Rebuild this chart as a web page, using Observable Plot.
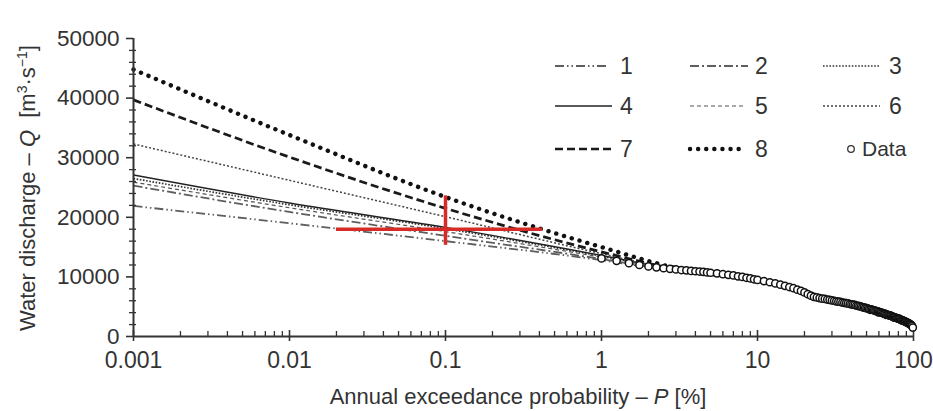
<!DOCTYPE html>
<html><head><meta charset="utf-8">
<script src="https://cdn.jsdelivr.net/npm/d3@7"></script>
<script src="https://cdn.jsdelivr.net/npm/@observablehq/plot@0.6"></script>
<style>
body{margin:0;background:#fff}
svg{font-family:"Liberation Sans",Arial,Helvetica,sans-serif}
</style>
</head><body><div id="chart"></div>
<script>
// ---- data ----
const probs = [0.001, 0.01, 0.1, 1, 3, 10, 30, 100];
const line1 = [21900, 19000, 16000, 12800, 10900, 9200, 6000, 1700];
const line2 = [25300, 20900, 16900, 13000, 11000, 9200, 6000, 1700];
const line3 = [26500, 22100, 18100, 13500, 11200, 9300, 6100, 1700];
const line4 = [27100, 22400, 18300, 13600, 11200, 9300, 6100, 1700];
const line5 = [25900, 21600, 17600, 13300, 11100, 9300, 6100, 1700];
const line6 = [32300, 26200, 20100, 13900, 11200, 9300, 6100, 1700];
const line7 = [39700, 30100, 21500, 14200, 11300, 9300, 6100, 1700];
const line8 = [44800, 33800, 23400, 15000, 11500, 9400, 6100, 1700];
const seriesNames = ["1","2","3","4","5","6","7","8"];

const dataP = [1,1.25,1.5,1.75,2,2.25,2.5,2.75,3,3.25,3.5,3.75,4,4.25,4.5,4.75,5,5.5,6,6.5,7,7.5,8,8.5,9,9.5,10,
  11,12,13,14,15,16,17,18,19,20,21,22,23,24,25,26,27,28,29,30,31,32,33,34,35,36,37,38,39,40,
  41,42,43,44,45,46,47,48,49,50,51,52,53,54,55,56,57,58,59,60,61,62,63,64,65,66,67,68,69,70,
  71,72,73,74,75,76,77,78,79,80,81,82,83,84,85,86,87,88,89,90,91,92,93,94,95,96,97,98,99];
const dataQ = [13100,12700,12300,12000,11750,11600,11450,11350,11250,11150,11100,11000,10950,10900,10850,10750,10700,10600,10450,10350,10250,10100,10000,9850,9750,9600,9500,
  9300,9100,8900,8700,8500,8300,8100,7850,7650,7400,7100,6850,6650,6550,6450,6350,6300,6200,6150,6050,6000,5900,5850,5800,5700,5650,5600,5550,5450,5400,
  5350,5300,5200,5150,5100,5000,4950,4900,4800,4750,4700,4600,4550,4500,4450,4400,4300,4250,4200,4150,4050,4000,3950,3900,3850,3800,3700,3650,3600,3550,
  3500,3450,3350,3300,3250,3200,3150,3100,3050,3000,2950,2900,2800,2750,2700,2650,2600,2550,2450,2400,2350,2300,2200,2150,2050,2000,1900,1750,1500];

const crossP = 0.1, crossQ = 18000;
const crossPRange = [0.02, 0.42];
const crossQRange = [15300, 23600];

const yTicks = [0, 10000, 20000, 30000, 40000, 50000];
const yMinor = [2000,4000,6000,8000,12000,14000,16000,18000,22000,24000,26000,28000,32000,34000,36000,38000,42000,44000,46000,48000];
const xTicks = [0.001, 0.01, 0.1, 1, 10, 100];
const xTickLabels = ["0.001", "0.01", "0.1", "1", "10", "100"];
const xMinor = [];
[0.001,0.01,0.1,1,10].forEach(d => { for (let k = 2; k <= 9; k++) xMinor.push(+(d*k).toPrecision(3)); });

// ---- styles ----
const styles = {
  "1": {stroke:"#5e5e5e", w:1.8, dash:"9,3,1.5,3,1.5,3"},
  "2": {stroke:"#5e5e5e", w:1.8, dash:"9,3,2,3"},
  "3": {stroke:"#333", w:1.7, dash:"1.6,1.6"},
  "4": {stroke:"#222", w:1.4, dash:null},
  "5": {stroke:"#555", w:1.2, dash:"4,3"},
  "6": {stroke:"#444", w:1.5, dash:"2,2"},
  "7": {stroke:"#1a1a1a", w:2.7, dash:"8,4"},
  "8": {stroke:"#111", w:4.4, dash:"0.1,8"},
};
styles["8"].cap = "round";

const allLines = [line1,line2,line3,line4,line5,line6,line7,line8];
const rows = [];
allLines.forEach((arr, i) => arr.forEach((q, j) => rows.push({s: seriesNames[i], p: probs[j], q})));
const pts = dataP.map((p, i) => ({p, q: dataQ[i]}));

const lineMarks = seriesNames.map(s => Plot.line(rows.filter(r => r.s === s), {
  x: "p", y: "q", curve: "monotone-x",
  stroke: styles[s].stroke, strokeWidth: styles[s].w,
  strokeDasharray: styles[s].dash || undefined,
  strokeLinecap: styles[s].cap || "butt"
}));

const chart = Plot.plot({
  width: 933, height: 411,
  marginLeft: 133, marginRight: 20, marginTop: 38, marginBottom: 75,
  style: {fontSize: "23px", color: "#333", background: "#fff", fontFamily: "Liberation Sans, Arial, sans-serif"},
  x: {type: "log", domain: [0.001, 100]},
  y: {domain: [0, 50000]},
  marks: [
    ...lineMarks,
    Plot.dot(pts, {x: "p", y: "q", r: 3.6, stroke: "#111", strokeWidth: 1.5, fill: "#fff"}),
    Plot.ruleY([crossQ], {x1: crossPRange[0], x2: crossPRange[1], stroke: "#d62b27", strokeWidth: 3.5}),
    Plot.ruleX([crossP], {y1: crossQRange[0], y2: crossQRange[1], stroke: "#d62b27", strokeWidth: 3.5}),
    Plot.axisY({ticks: yTicks, tickFormat: d => String(d), tickSize: 7, tickPadding: 7, label: null, strokeWidth: 1.6, fontSize: 22.5}),
    Plot.axisY({ticks: yMinor, tickSize: 4, text: null, label: null, strokeWidth: 1.3}),
    Plot.axisY({ticks: yMinor, tickSize: -3, text: null, label: null, strokeWidth: 1.3}),
    Plot.axisX({ticks: xTicks, tickFormat: d => xTickLabels[xTicks.indexOf(d)], tickSize: 5, tickPadding: 10, label: null, strokeWidth: 1.6, fontSize: 23}),
    Plot.axisX({ticks: xTicks, tickSize: -6, text: null, label: null, strokeWidth: 1.6}),
    Plot.axisX({ticks: xMinor, tickSize: -5, text: null, label: null, strokeWidth: 1.3}),
    Plot.ruleY([0], {stroke: "#333", strokeWidth: 2}),
    Plot.ruleX([0.001], {stroke: "#333", strokeWidth: 2})
  ]
});
document.getElementById("chart").appendChild(chart);

// ---- titles & legend ----
const svg = d3.select(chart);
const xt = svg.append("text").attr("x", 518).attr("y", 404).attr("text-anchor", "middle")
  .attr("font-size", 22).attr("fill", "#333");
xt.append("tspan").text("Annual exceedance probability – ");
xt.append("tspan").attr("font-style", "italic").text("P");
xt.append("tspan").text(" [%]");

const yt = svg.append("text").attr("transform", "translate(35,188) rotate(-90)").attr("text-anchor", "middle")
  .attr("font-size", 22).attr("fill", "#333");
yt.append("tspan").text("Water discharge – ");
yt.append("tspan").attr("font-style", "italic").text("Q");
yt.append("tspan").text("  [m");
yt.append("tspan").attr("font-size", 14).attr("dy", -8).text("3");
yt.append("tspan").attr("dy", 8).text("·s");
yt.append("tspan").attr("font-size", 14).attr("dy", -8).text("−1");
yt.append("tspan").attr("dy", 8).text("]");

const legendItems = [
  {s:"1", x1:555, x2:608, tx:620, y:66},
  {s:"2", x1:690, x2:748, tx:755, y:66},
  {s:"3", x1:823, x2:880, tx:889, y:66},
  {s:"4", x1:555, x2:612, tx:620, y:106},
  {s:"5", x1:690, x2:745, tx:755, y:106},
  {s:"6", x1:823, x2:880, tx:889, y:106},
  {s:"7", x1:555, x2:612, tx:620, y:149},
  {s:"8", x1:690, x2:745, tx:755, y:149}
];
const lg = svg.append("g").attr("text-anchor", "start");
legendItems.forEach(it => {
  const st = styles[it.s];
  lg.append("line").attr("x1", it.x1).attr("x2", it.x2).attr("y1", it.y).attr("y2", it.y)
    .attr("stroke", st.stroke).attr("stroke-width", st.w)
    .attr("stroke-dasharray", st.dash).attr("stroke-linecap", st.cap || "butt");
  lg.append("text").attr("x", it.tx).attr("y", it.y).attr("dy", "0.35em").attr("text-anchor", "start")
    .attr("font-size", 23).attr("fill", "#333").text(it.s);
});
lg.append("circle").attr("cx", 851).attr("cy", 149).attr("r", 3.3).attr("fill", "#fff").attr("stroke", "#333").attr("stroke-width", 1.3);
lg.append("text").attr("x", 862).attr("y", 149).attr("dy", "0.35em").attr("text-anchor", "start")
  .attr("font-size", 21).attr("fill", "#333").text("Data");
</script>
</body></html>
